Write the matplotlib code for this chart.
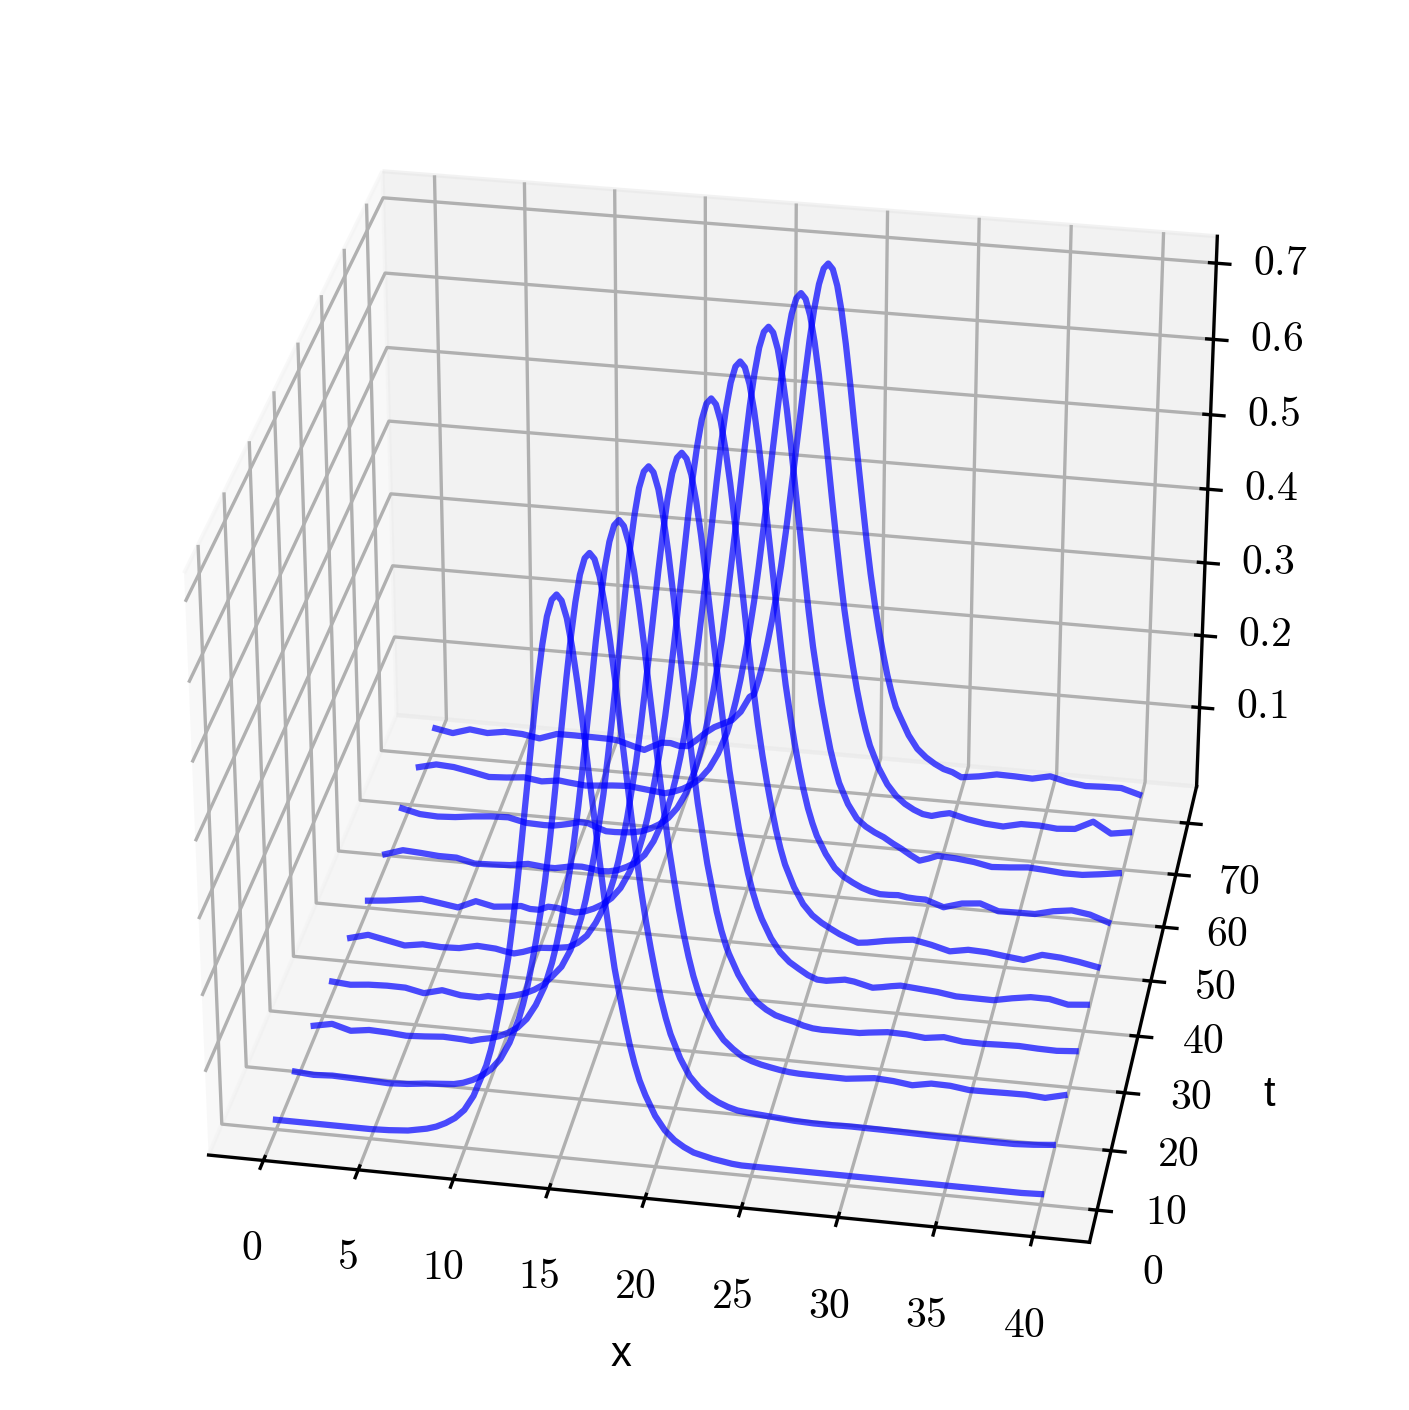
import matplotlib
matplotlib.use("Agg")
import matplotlib.pyplot as plt

plt.rcParams['mathtext.fontset'] = 'cm'

# malha em x para as caudas
x_grid = [0, 1, 2, 3, 4, 5, 6, 7,
          8, 8.5, 9, 9.5, 10, 10.5, 11, 11.5, 12, 12.5,
          13, 13.5, 14, 14.5, 15, 15.5, 16, 16.5, 17, 17.5,
          18, 18.5, 19, 19.5, 20, 20.5, 21, 21.5, 22, 22.5,
          23, 23.5, 24, 24.5, 25, 25.5, 26, 26.5, 27, 27.5,
          28, 28.5, 29, 29.5, 30,
          31, 32, 33, 34, 35, 36, 37, 38, 39, 40]

t_values = [0, 8, 16, 24, 32, 40, 48, 56, 64, 72]
peak_x = [15.2, 16, 16.65, 17.35, 18.25, 19, 19.75, 20.5, 21.5, 22.25]

u_t0 = [.002, .002, .002, .002, .002, .002, .003, .005,
        .01, .014, .02, .028, .04, .06, .09, .148, .211, .29,
        .389, .498, .605, .684, .712, .684, .605, .498, .389, .29,
        .211, .148, .102, .083, .057, .039, .027, .019, .013, .01,
        .007, .005, .003, .002, .002, .002, .002, .002, .002, .002,
        .002, .002, .002, .002, .002,
        .002, .002, .002, .002, .002, .002, .002, .002, .002, .003]
u_t8 = [.005, .003, .0045, .0037, .0027, .0015, .003, .006,
        .008, .009, .012, .017, .024, .034, .049, .072, .104, .15,
        .213, .29, .389, .498, .605, .684, .712, .684, .605, .498,
        .389, .29, .213, .15, .104, .073, .05, .036, .026, .019,
        .014, .0105, .009, .008, .007, .006, .005, .004, .0035, .003,
        .003, .003, .0035, .0037, .0036,
        .0034, .003, .0025, .002, .002, .0017, .0015, .0015, .003, .0053]
u_t16 = [.006, .011, .004, .0075, .0065, .0045, .006, .008,
         .007, .006, .0094, .012, .016, .022, .03, .043, .063, .09,
         .148, .209, .286, .384, .491, .597, .674, .702, .674, .597,
         .491, .384, .286, .209, .148, .102, .08, .057, .04, .029,
         .02, .015, .0115, .009, .0067, .005, .0042, .004, .0038, .0037,
         .0036, .0035, .005, .0065, .008,
         .0065, .0033, .008, .0075, .0042, .0045, .005, .0053, .0035, .0096]
u_t24 = [.006, .004, .0065, .0075, .0072, .002, .0085, .004,
         .0035, .0065, .006, .008, .011, .015, .021, .029, .042, .056,
         .08, .125, .181, .252, .341, .449, .559, .656, .712, .712,
         .656, .559, .449, .341, .252, .181, .125, .095, .068, .048,
         .033, .024, .0175, .014, .011, .007, .0045, .0037, .004, .004,
         .0042, .0042, .006, .0075, .009,
         .0085, .006, .0095, .0058, .0055, .0065, .0072, .006, .0055, .0074]
u_t32 = [.0064, .013, .008, .003, .007, .0055, .0065, .012,
         .0105, .008, .0062, .0095, .014, .0175, .0184, .02, .022, .029,
         .04, .059, .084, .121, .174, .242, .326, .428, .534, .627,
         .68, .68, .627, .534, .428, .326, .242, .174, .121, .085,
         .06, .042, .03, .022, .0145, .0095, .009, .011, .013, .0115,
         .0085, .0055, .0075, .01, .012,
         .01, .008, .0044, .0042, .004, .009, .013, .0128, .0075, .0098]
u_t40 = [-.001, .0015, .005, .0085, .005, .0013, .0123, .007,
         .0095, .0115, .0085, .0085, .014, .0135, .011, .0095, .012, .017,
         .024, .034, .049, .072, .102, .148, .211, .288, .386, .495,
         .601, .679, .707, .679, .601, .495, .386, .288, .211, .148,
         .102, .072, .05, .036, .027, .02, .0135, .0085, .004, .0055,
         .0078, .0102, .012, .0138, .0153,
         .0105, .004, .0085, .0075, .0044, .0016, .011, .0095, .006, .0013]
u_t48 = [.0056, .0135, .012, .01, .01, .004, .005, .0065,
         .0105, .0093, .008, .008, .0105, .013, .0135, .012, .0098, .0105,
         .0133, .019, .026, .038, .058, .086, .123, .177, .247, .335,
         .44, .549, .644, .699, .699, .644, .549, .44, .335, .247,
         .177, .123, .086, .062, .044, .033, .026, .02, .016, .0135,
         .0137, .0145, .0125, .0118, .0118,
         .0035, .011, .0135, .005, .0055, .0058, .012, .0155, .012, .0036]
u_t56 = [.0124, .0067, .0055, .007, .0102, .0125, .0135, .008,
         .0072, .0075, .0098, .0125, .016, .0155, .0105, .0065, .0065, .0072,
         .0085, .011, .016, .023, .033, .048, .07, .103, .148, .21,
         .286, .385, .492, .598, .675, .703, .675, .598, .492, .385,
         .286, .21, .148, .103, .075, .056, .046, .039, .0335, .026,
         .0195, .012, .0054, .0095, .0145,
         .0132, .0105, .0058, .0075, .0098, .0083, .0062, .0063, .0095, .0132]
u_t64 = [.014, .02, .0185, .014, .009, .0105, .013, .0095,
         .013, .0115, .0103, .0092, .0103, .0115, .0127, .0135, .014, .0125,
         .0112, .0098, .0085, .012, .017, .024, .034, .049, .071, .101,
         .147, .209, .285, .383, .491, .595, .672, .70, .672, .595,
         .491, .383, .285, .209, .147, .101, .071, .049, .034, .024,
         .017, .012, .0105, .014, .0167,
         .0105, .0065, .0048, .0105, .0107, .0085, .0105, .0229, .0085, .0125]
u_t72 = [.013, .0085, .016, .013, .017, .016, .012, .0205,
         .0207, .0205, .0205, .0203, .0202, .019, .0155, .012, .009, .0155,
         .0215, .022, .019, .02, .03, .041, .05, .056, .062, .075,
         .097, .121, .174, .242, .328, .431, .538, .631, .685, .685,
         .631, .538, .431, .328, .242, .174, .121, .088, .063, .045,
         .034, .026, .0198, .0165, .0105,
         .014, .019, .0185, .0175, .023, .017, .0138, .015, .0155, .0085]
curves = [u_t0, u_t8, u_t16, u_t24, u_t32, u_t40, u_t48, u_t56, u_t64, u_t72]

# topo de cada curva, de x_pico-4 ate x_pico, de 0.25 em 0.25 (simetrico)
peak_offsets = [-4, -3.75, -3.5, -3.25, -3, -2.75, -2.5, -2.25, -2, -1.75, -1.5, -1.25, -1, -0.75, -0.5, -0.25, 0]
top_t0 = [.102, .123, .148, .178, .211, .246, .29, .337, .389, .444, .498, .554, .605, .649, .684, .705, .712]
top_t8 = [.104, .125, .15, .18, .213, .249, .29, .337, .389, .444, .498, .554, .605, .649, .684, .705, .712]
top_t16 = [.102, .122, .147, .176, .209, .246, .286, .333, .384, .438, .491, .547, .597, .641, .674, .695, .702]
top_t24 = [.105, .125, .15, .181, .213, .252, .292, .341, .393, .449, .504, .559, .612, .656, .691, .712, .719]
top_t32 = [.101, .121, .145, .174, .205, .242, .28, .326, .376, .428, .481, .534, .584, .627, .66, .68, .687]
top_t40 = [.102, .123, .148, .178, .211, .247, .288, .335, .386, .441, .495, .55, .601, .644, .679, .7, .707]
top_t48 = [.103, .123, .148, .177, .21, .247, .287, .335, .386, .44, .494, .549, .6, .644, .678, .699, .706]
top_t56 = [.103, .124, .148, .178, .21, .247, .286, .333, .385, .438, .492, .547, .598, .641, .675, .696, .703]
top_t64 = [.101, .122, .147, .176, .209, .245, .285, .332, .383, .436, .491, .544, .595, .638, .672, .693, .70]
top_t72 = [.101, .121, .145, .174, .206, .242, .282, .328, .379, .431, .484, .538, .588, .631, .664, .685, .692]
tops = [top_t0, top_t8, top_t16, top_t24, top_t32, top_t40, top_t48, top_t56, top_t64, top_t72]

x_ticks = [0, 5, 10, 15, 20, 25, 30, 35, 40]
t_ticks = [0, 10, 20, 30, 40, 50, 60, 70]
z_ticks = [0.1, 0.2, 0.3, 0.4, 0.5, 0.6, 0.7]

fig = plt.figure(figsize=(1409 / 300, 1410 / 300), dpi=300)
ax = fig.add_subplot(projection='3d')
ax.set_position([0.02, 0.02, 0.96, 0.96])

for t, u, p, top in zip(t_values, curves, peak_x, tops):
    # junta as caudas com o topo, mais fino
    left = [(x, v) for x, v in zip(x_grid, u) if x < p - 4]
    right = [(x, v) for x, v in zip(x_grid, u) if x > p + 4]
    mid = [(p + d, v) for d, v in zip(peak_offsets, top)]
    mid += [(p - d, v) for d, v in zip(peak_offsets[-2::-1], top[-2::-1])]
    pts = left + mid + right
    xs = [a for a, b in pts]
    zs = [b for a, b in pts]
    ax.plot(xs, [t] * len(xs), zs, color='blue', alpha=0.7, lw=1.5)

ax.set_xlim(-2.9, 42.9)
ax.set_ylim(-5.3, 77.3)
ax.set_zlim(-0.011, 0.735)
ax.set_xticks(x_ticks)
ax.set_yticks(t_ticks)
ax.set_zticks(z_ticks)
ax.set_xticklabels([f'${v}$' for v in x_ticks])
ax.set_yticklabels([f'${v}$' for v in t_ticks])
ax.set_zticklabels([f'${v}$' for v in z_ticks])
ax.tick_params(axis='x', pad=2.7)
ax.tick_params(axis='y', pad=2.7)
ax.tick_params(axis='z', pad=3.5)
ax.set_xlabel('x', family='Liberation Sans', size=10)
ax.set_ylabel('t', family='Liberation Sans', size=10)
ax.view_init(elev=30, azim=-80)
fig.savefig('out.png')
